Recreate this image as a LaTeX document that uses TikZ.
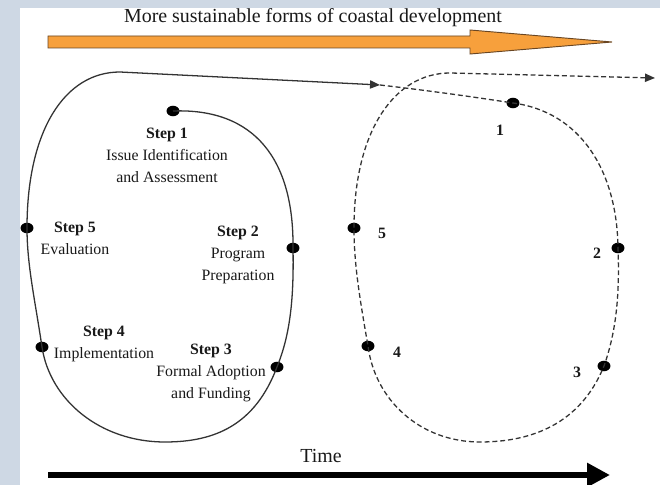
\documentclass[tikz,border=0pt]{standalone}
\usepackage{fontspec}
\setmainfont{Liberation Serif}
\usetikzlibrary{arrows.meta,shapes.geometric}
\definecolor{marble}{RGB}{206,216,228}
\definecolor{arroworange}{RGB}{247,160,60}
\definecolor{arrowedge}{RGB}{105,70,35}

\begin{document}
\begin{tikzpicture}[x=0.03cm,y=-0.03cm,
    dot/.style={ellipse,fill=black,minimum width=11pt,minimum height=9pt,inner sep=0pt},
    steptext/.style={align=center,font=\fontsize{13.5}{18.7}\selectfont,text=black!90},
    numtext/.style={font=\fontsize{13.5}{16}\selectfont\bfseries,text=black!90},
    bigtext/.style={font=\fontsize{17}{20}\selectfont,text=black!90},
    cycleline/.style={line width=1.1pt,black!80},
    nextline/.style={cycleline,dash pattern=on 4.2pt off 2.5pt},
    endtip/.style={-{Triangle[length=8.5pt,width=7pt]}}]
            \useasboundingbox (0,0) rectangle (660,485);
            \fill[marble] (0,0) rectangle (660,485);
            \fill[white] (20,8) rectangle (660,485);

            \coordinate (A1) at (380,85);
            \coordinate (LT) at (120,72);
            \coordinate (LB) at (165,442);
            \coordinate (A2) at (655,78);
            \coordinate (RT) at (450,73);
            \coordinate (RB) at (480,442);
            \coordinate (T0) at (48,475);
            \coordinate (T1) at (610,475);

            \node[dot] (S1) at (173,111) {};
            \node[dot] (S2) at (293,248) {};
            \node[dot] (S3) at (277,367) {};
            \node[dot] (S4) at (42,347) {};
            \node[dot] (S5) at (27,228) {};

            \node[dot] (D1) at (513,103) {};
            \node[dot] (D2) at (618,248) {};
            \node[dot] (D3) at (604,366) {};
            \node[dot] (D4) at (368,346) {};
            \node[dot] (D5) at (354,228) {};

            \filldraw[fill=arroworange,draw=arrowedge,line width=0.8pt]
                (48,36) -- (470,36) -- (470,30) -- (612,42)
                -- (470,54) -- (470,48) -- (48,48) -- cycle;
            \node[bigtext,anchor=base] (title) at (313,23) {More sustainable forms of coastal development};

            \draw[cycleline,endtip] (S1.center) .. controls (255,108) and (294,160) .. (S2.center)
                .. controls (294,300) and (290,335) .. (S3.center)
                .. controls (255,425) and (215,442) .. (LB)
                .. controls (100,442) and (50,400) .. (S4.center)
                .. controls (35,300) and (27,265) .. (S5.center)
                .. controls (27,130) and (65,72) .. (LT) -- (A1);

            \draw[nextline,endtip] (A1) .. controls (440,92) and (480,98) .. (D1.center)
                .. controls (580,112) and (617,170) .. (D2.center)
                .. controls (620,300) and (615,335) .. (D3.center)
                .. controls (580,425) and (530,442) .. (RB)
                .. controls (420,442) and (375,400) .. (D4.center)
                .. controls (360,300) and (354,265) .. (D5.center)
                .. controls (354,130) and (395,73) .. (RT) -- (A2);

            \node[steptext] (L1) at (167,155) {\textbf{Step 1}\\Issue Identification\\and Assessment};
            \node[steptext] (L2) at (238,255) {\textbf{Step 2}\\Program\\Preparation};
            \node[steptext] (L3) at (211,373) {\textbf{Step 3}\\Formal Adoption\\and Funding};
            \node[steptext] (L4) at (104,344) {\textbf{Step 4}\\Implementation};
            \node[steptext] (L5) at (75,238) {\textbf{Step 5}\\Evaluation};

            \node[numtext] (N1) at (500,130) {1};
            \node[numtext] (N2) at (597,253) {2};
            \node[numtext] (N3) at (577,372) {3};
            \node[numtext] (N4) at (397,352) {4};
            \node[numtext] (N5) at (382,233) {5};

            \draw[line width=5.1pt,-{Triangle[length=19.5pt,width=19.5pt]}] (T0) -- (T1);
            \node[bigtext,anchor=base] (time) at (321,463) {Time};
        \end{tikzpicture}
\end{document}
